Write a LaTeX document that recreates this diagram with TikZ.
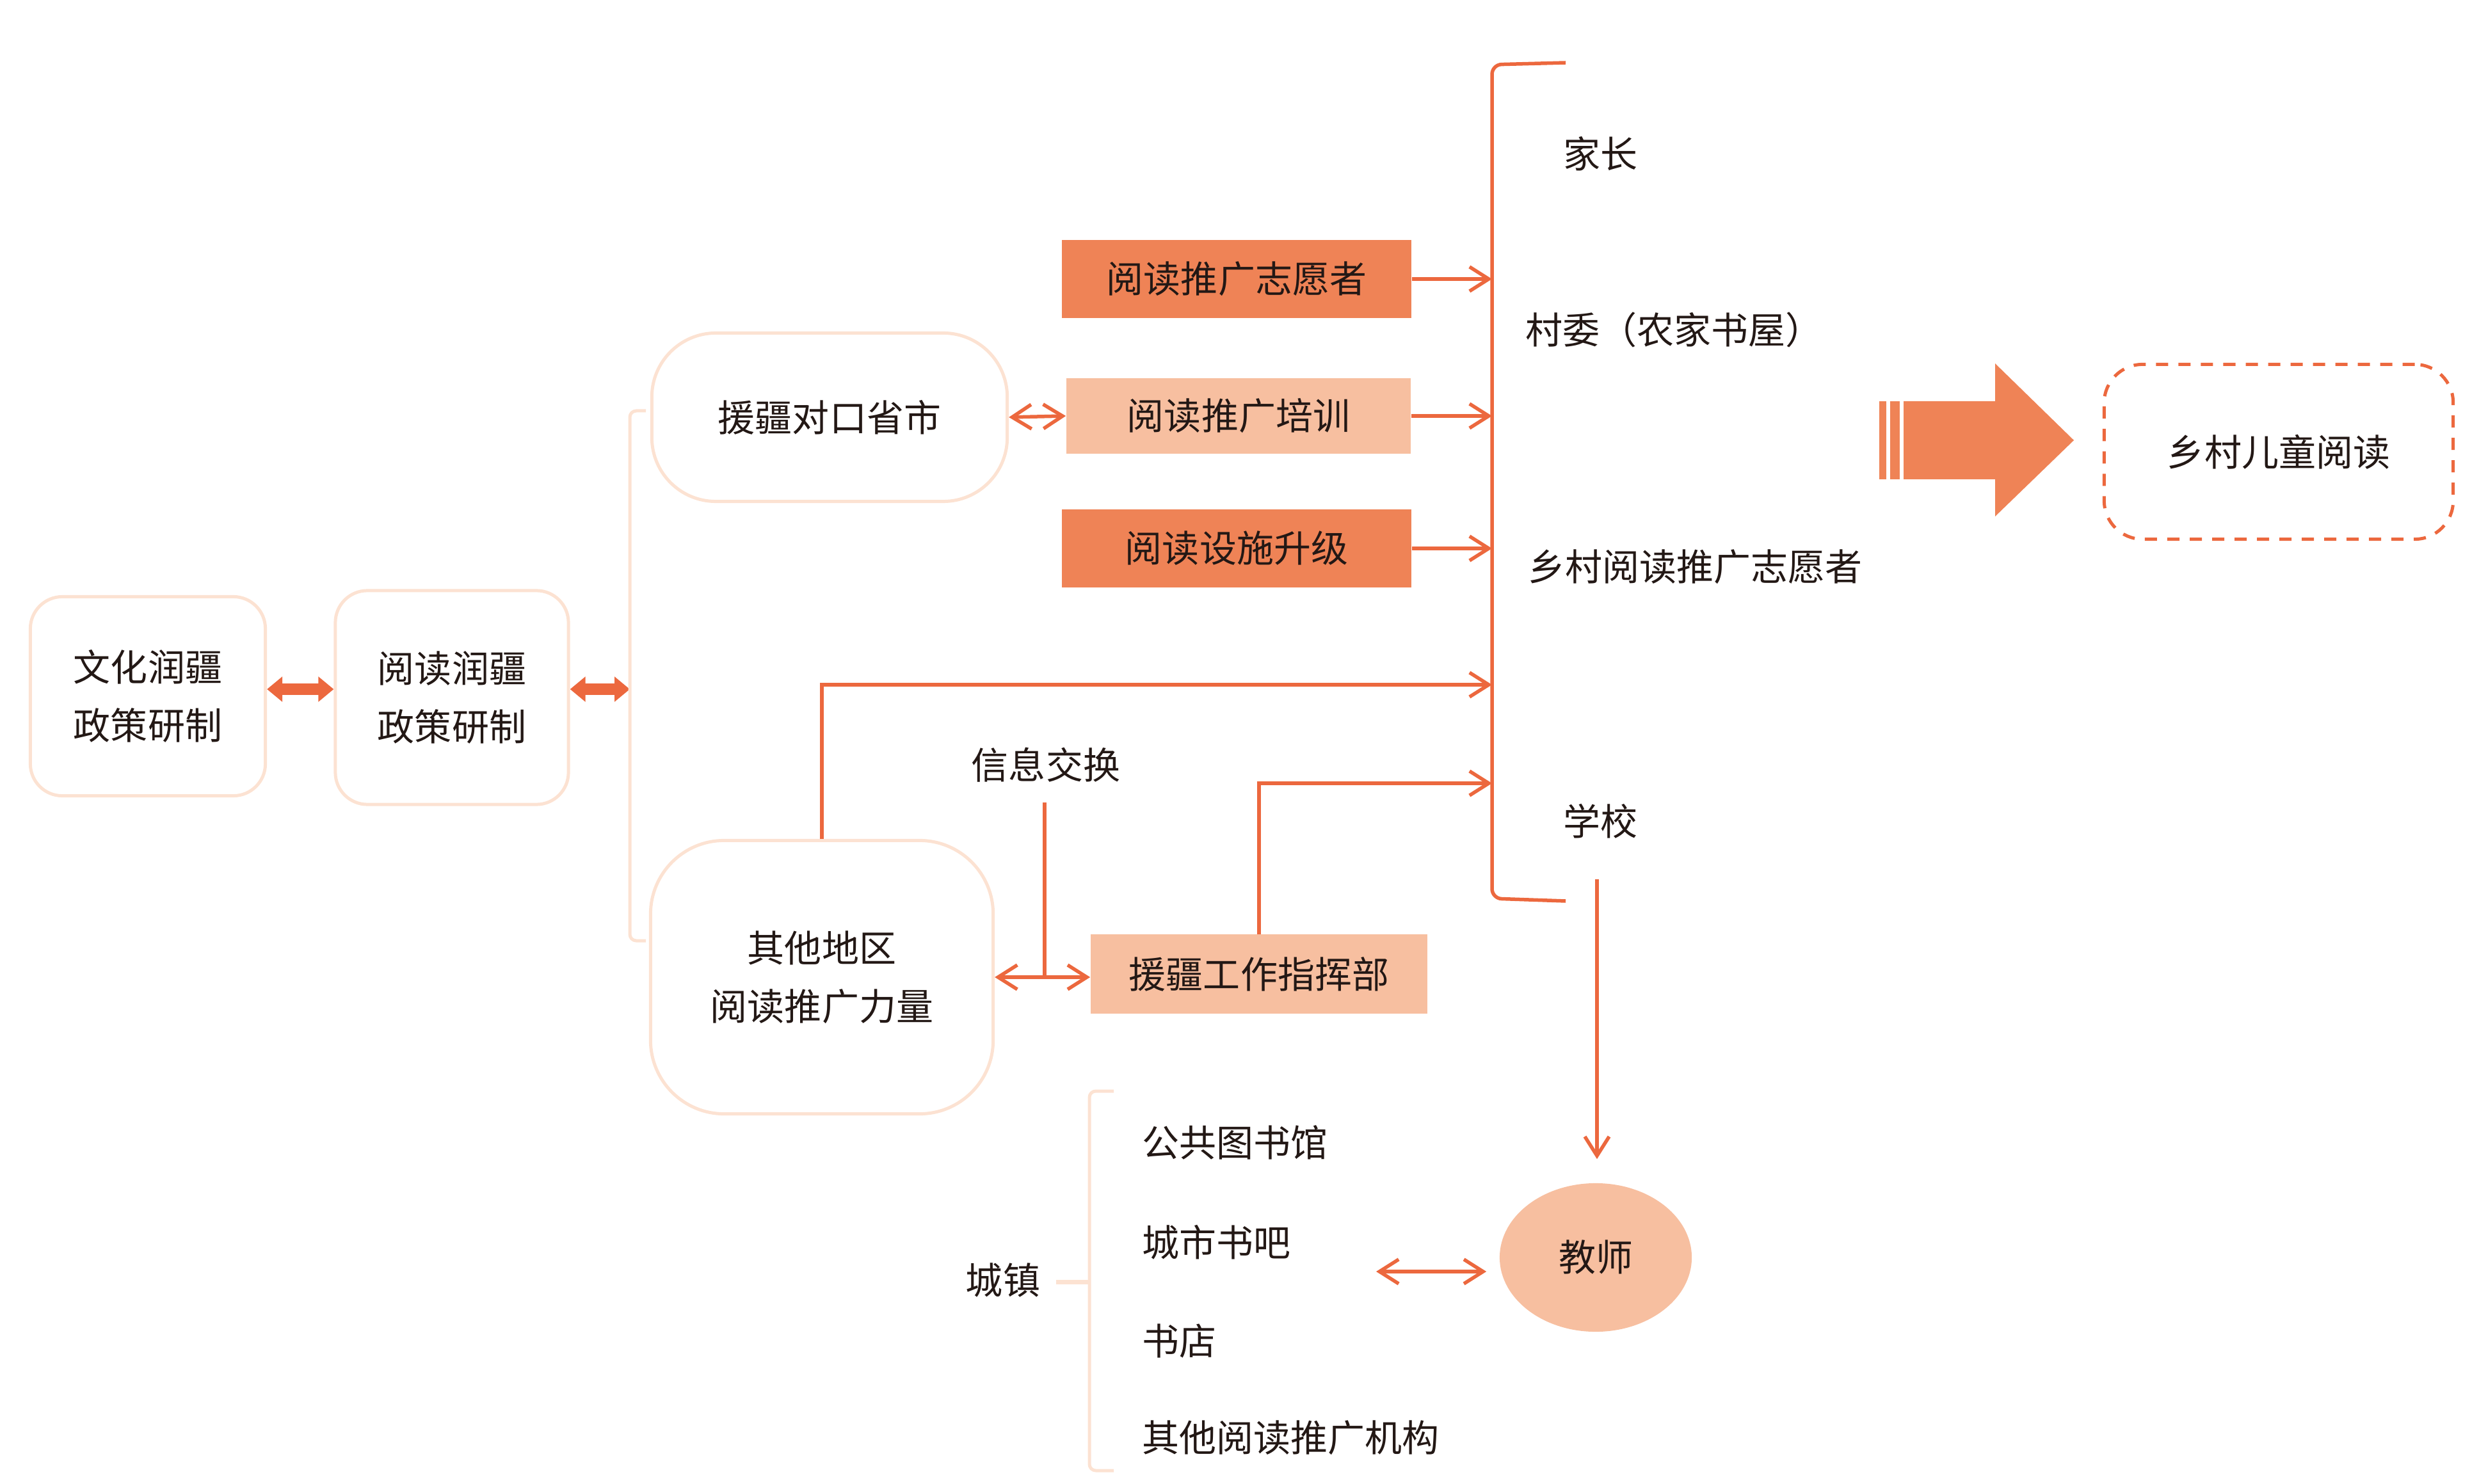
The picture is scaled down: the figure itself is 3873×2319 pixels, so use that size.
\documentclass[tikz,border=0pt]{standalone}
\usepackage{fontspec}
\setmainfont{Noto Sans CJK SC}
\usetikzlibrary{arrows.meta,shapes.geometric,calc}
\definecolor{lineor}{RGB}{236,104,62}
\definecolor{darkor}{RGB}{239,131,86}
\definecolor{peach}{RGB}{247,191,160}
\definecolor{lightb}{RGB}{252,226,210}
\definecolor{txt}{RGB}{35,24,21}
\begin{document}
\begin{tikzpicture}[x=0.01cm,y=-0.01cm,
 every node/.style={text=txt, font=\fontsize{16.5pt}{26pt}\selectfont},
 softbox/.style={draw=lightb, line width=0.05cm, align=center, inner sep=0pt},
 fillbox/.style={fill=#1, inner sep=0pt, minimum width=5.46cm, minimum height=1.22cm},
 oline/.style={draw=lineor, line width=0.055cm},
 barb/.style={-{Straight Barb[length=0.3cm,width=0.38cm]}},
 dbarb/.style={{Straight Barb[length=0.3cm,width=0.38cm]}-{Straight Barb[length=0.3cm,width=0.38cm]}},
 fat/.style={draw=lineor, line width=0.18cm, {Triangle[length=0.24cm,width=0.38cm]}-{Triangle[length=0.24cm,width=0.38cm]}},
 lbr/.style={draw=lightb, line width=0.05cm, rounded corners=0.1cm},
 plain/.style={inner sep=0pt}
]
\useasboundingbox (0,0) rectangle (3873,2319);

% boxes
\node[softbox, rounded corners=0.5cm, minimum width=3.67cm, minimum height=3.11cm] (A) at (231,1088) {文化润疆\\政策研制};
\node[softbox, rounded corners=0.5cm, minimum width=3.64cm, minimum height=3.34cm] (B) at (706,1090) {阅读润疆\\政策研制};
\node[softbox, rounded corners=1.0cm, minimum width=5.55cm, minimum height=2.63cm] (C) at (1296,652) {援疆对口省市};
\node[softbox, rounded corners=1.15cm, minimum width=5.35cm, minimum height=4.27cm] (D) at (1284,1527) {其他地区\\阅读推广力量};
\node[fillbox=darkor] (V) at (1932,436) {阅读推广志愿者};
\node[fillbox=peach, minimum width=5.38cm, minimum height=1.18cm] (T) at (1935,650) {阅读推广培训};
\node[fillbox=darkor] (U) at (1932,857) {阅读设施升级};
\node[fillbox=peach, minimum width=5.26cm, minimum height=1.23cm] (H) at (1967,1522) {援疆工作指挥部};
\node[ellipse, fill=peach, minimum width=3.0cm, minimum height=2.32cm, inner sep=0pt] (E) at (2493,1965) {教师};
\node[draw=lineor, line width=0.05cm, dash pattern=on 0.19cm off 0.16cm, rounded corners=0.6cm, minimum width=5.45cm, minimum height=2.73cm, inner sep=0pt] (R) at (3560,706) {乡村儿童阅读};

% texts
\node[plain, anchor=west] (p1) at (2442,240) {家长};
\node[plain, anchor=west] (p2) at (2383,515) {村委（农家书屋）};
\node[plain, anchor=west] (p3) at (2387,886) {乡村阅读推广志愿者};
\node[plain, anchor=west] (p4) at (2442,1283) {学校};
\node[plain] (info) at (1634,1195) {信息交换};
\node[plain] (town) at (1567,2000) {城镇};
\node[plain, anchor=west] (c1) at (1784,1785) {公共图书馆};
\node[plain, anchor=west] (c2) at (1784,1941) {城市书吧};
\node[plain, anchor=west] (c3) at (1784,2096) {书店};
\node[plain, anchor=west] (c4) at (1784,2247) {其他阅读推广机构};

% helper coordinates
\coordinate (M) at (2331,0);
\coordinate (Lb) at (984,0);
\coordinate (y1) at (0,1077);
\coordinate (y2) at (0,1070);
\coordinate (y3) at (0,1224);
\coordinate (y4) at (0,1527);
\coordinate (infob) at (1632,1254);
\coordinate (sch) at (2495,1374);
\coordinate (tw) at (2150,1987);

% thick double arrows
\draw[fat] (A.east |- y1) -- (B.west |- y1);
\draw[fat] (B.east |- y1) -- (Lb |- y1);

% light brackets
\draw[lbr] (1009,642) -- (984,642) -- (984,1470) -- (1009,1470);
\draw[lbr] (1740,1705) -- (1702,1705) -- (1702,2298) -- (1740,2298);
\draw[draw=lightb, line width=0.07cm] (1650,2003) -- (1702,2003);

% main bracket
\draw[oline, rounded corners=0.15cm] (2446,98) -- (2331,101) -- (2331,1404) -- (2446,1408);

% connectors
\draw[oline, dbarb] (C.east) -- (T.west);
\draw[oline, barb] (V.east) -- (V.east -| M);
\draw[oline, barb] (T.east) -- (T.east -| M);
\draw[oline, barb] (U.east) -- (U.east -| M);
\draw[oline, barb] (D.north) -- (D.north |- y2) -- (M |- y2);
\draw[oline, barb] (H.north) -- (H.north |- y3) -- (M |- y3);
\draw[oline, dbarb] (D.east |- y4) -- (H.west |- y4);
\draw[oline] (infob) -- (infob |- y4);
\draw[oline, barb, shorten >=0.37cm] (sch) -- (sch |- E.north);
\draw[oline, dbarb, shorten >=0.2cm] (tw) -- (tw -| E.west);

% big arrow
\fill[darkor] (2936,627) rectangle (2947,749);
\fill[darkor] (2953,627) rectangle (2968,749);
\fill[darkor] (2974,627) -- (3117,627) -- (3117,568) -- (3240,688) -- (3117,807) -- (3117,749) -- (2974,749) -- cycle;
\end{tikzpicture}
\end{document}
